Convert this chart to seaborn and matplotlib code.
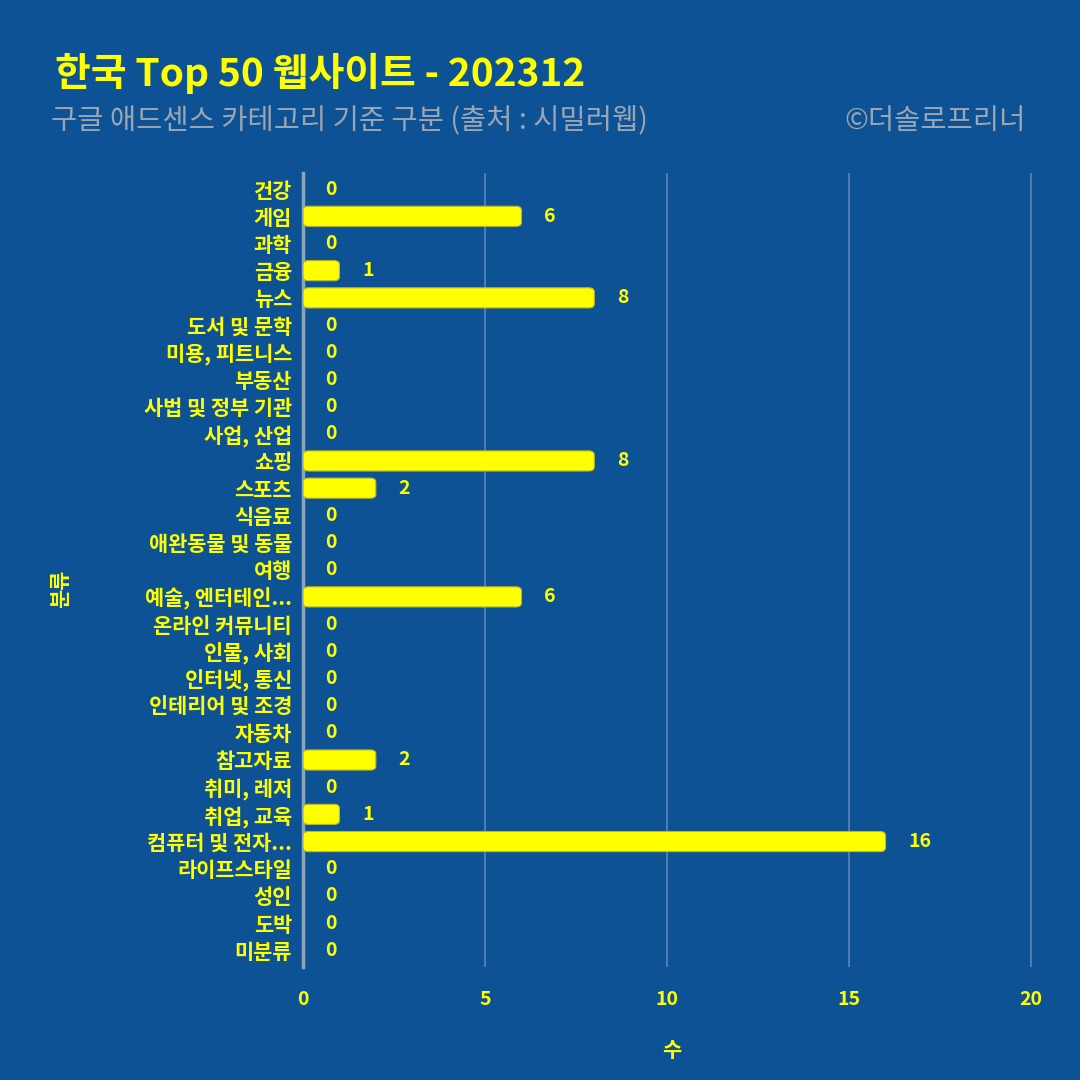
import matplotlib
matplotlib.use("Agg")
import matplotlib.pyplot as plt
import seaborn as sns
import pandas as pd
from matplotlib.patches import FancyBboxPatch

categories = ["건강", "게임", "과학", "금융", "뉴스", "도서 및 문학", "미용, 피트니스", "부동산",
              "사법 및 정부 기관", "사업, 산업", "쇼핑", "스포츠", "식음료", "애완동물 및 동물", "여행",
              "예술, 엔터테인...", "온라인 커뮤니티", "인물, 사회", "인터넷, 통신", "인테리어 및 조경",
              "자동차", "참고자료", "취미, 레저", "취업, 교육", "컴퓨터 및 전자...", "라이프스타일",
              "성인", "도박", "미분류"]
counts = [0, 6, 0, 1, 8, 0, 0, 0, 0, 0, 8, 2, 0, 0, 0, 6, 0, 0, 0, 0, 0, 2, 0, 1, 16, 0, 0, 0, 0]
x_ticks = [0, 5, 10, 15, 20]

BG = "#0d5294"
YEL = "#ffff00"
GRID = "#5a86b4"

sns.set_theme(style="white")
plt.rcParams['font.family'] = ['Noto Sans CJK KR', 'DejaVu Sans']

df = pd.DataFrame({"분류": categories, "수": counts})

fig = plt.figure(figsize=(10.8, 10.8), dpi=100, facecolor=BG)
ax = fig.add_axes([0.2806, 0.105, 0.6826, 0.735])
ax.set_facecolor(BG)

sns.barplot(data=df, y="분류", x="수", orient="h", color=YEL, width=0.74,
            saturation=1, ax=ax, zorder=3)

# round bar corners
for p in list(ax.patches):
    x0, y0 = p.get_x(), p.get_y()
    w, h = p.get_width(), p.get_height()
    p.remove()
    if w <= 0:
        continue
    fb = FancyBboxPatch((x0, y0), w, h,
                        boxstyle="round,pad=0,rounding_size=0.15",
                        facecolor=YEL, edgecolor="#b8b830", linewidth=0.8, zorder=3)
    ax.add_patch(fb)

ax.set_xlim(0, 20.25)
ax.set_ylim(len(categories) - 0.4, -0.6)
ax.set_xticks(x_ticks)
ax.grid(axis="x", color=GRID, linewidth=1.2, zorder=0)
ax.grid(axis="y", visible=False)
for s in ["top", "right", "bottom"]:
    ax.spines[s].set_visible(False)
ax.spines["left"].set_color("#8aa6b8")
ax.spines["left"].set_linewidth(2.5)

ax.tick_params(axis="x", colors=GRID, length=5, width=1, labelcolor=YEL, labelsize=14, pad=12)
ax.tick_params(axis="y", length=0, labelcolor=YEL, labelsize=15, pad=8)
for lab in ax.get_xticklabels() + ax.get_yticklabels():
    lab.set_fontweight("bold")

for i, v in enumerate(counts):
    ax.text(v + 0.62, i, str(v), color=YEL, fontsize=14,
            fontweight="bold", ha="left", va="center", zorder=4)

ax.set_xlabel("수", color=YEL, fontsize=15, fontweight="bold", labelpad=22)
ax.set_ylabel("분류", color=YEL, fontsize=15, fontweight="bold", labelpad=22)
ax.yaxis.set_label_coords(-0.315, 0.476)

fig.text(0.051, 0.932, "한국 Top 50 웹사이트 - 202312", color=YEL, fontsize=28,
         fontweight="bold", fontstyle="italic", ha="left", va="center")
fig.text(0.047, 0.888, "구글 애드센스 카테고리 기준 구분 (출처 : 시밀러웹)", color="#9aa6b4",
         fontsize=20.5, fontstyle="italic", ha="left", va="center")
fig.text(0.950, 0.888, "©더솔로프리너", color="#9aa6b4", fontsize=20.5,
         fontstyle="italic", ha="right", va="center")

fig.savefig("out.png", dpi=100, facecolor=BG)
